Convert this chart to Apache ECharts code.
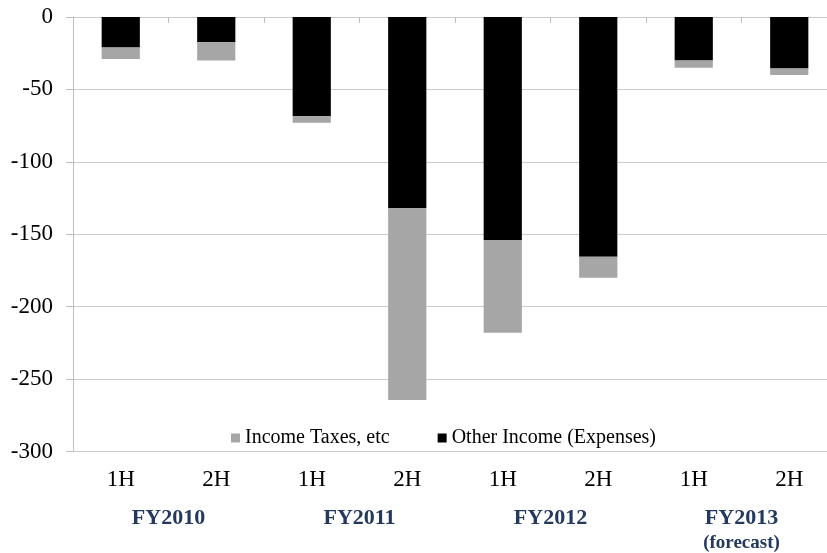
<!DOCTYPE html>
<html>
<head>
<meta charset="utf-8">
<script src="https://cdn.jsdelivr.net/npm/echarts@6/dist/echarts.min.js"></script>
<style>
  html, body { margin: 0; padding: 0; background: #fff; overflow: hidden; }
  /* plot area runs slightly past the right edge of the window */
  #chart { width: 840px; height: 553px; }
</style>
</head>
<body>
<div id="chart"></div>
<script>
// Half-year periods and fiscal-year groups
const halves = ['1H', '2H', '1H', '2H', '1H', '2H', '1H', '2H'];
const fiscalYears = ['FY2010', 'FY2011', 'FY2012', 'FY2013'];

// Values per half-year (stacked downward from zero)
const otherIncome = [-21, -17.5, -68.5, -132, -154, -165.5, -30, -35.5];
const incomeTaxes = [-8, -12.5, -4.5, -132.5, -64, -14.5, -5, -4.5];

// Value axis range
const yMin = -300, yMax = 0, yStep = 50;

const serif = '"Liberation Serif", "Times New Roman", serif';
const navy = '#23395d';

const chart = echarts.init(document.getElementById('chart'), null, { renderer: 'canvas' });

chart.setOption({
  animation: false,
  backgroundColor: '#ffffff',
  grid: { left: 73, top: 17, width: 764, height: 438, containLabel: false },
  legend: {
    data: ['Income Taxes, etc', 'Other Income (Expenses)'],
    left: 226,
    top: 423,
    icon: 'rect',
    itemWidth: 9,
    itemHeight: 9,
    itemGap: 48,
    textStyle: { fontFamily: serif, fontSize: 20, color: '#000' }
  },
  xAxis: [
    {
      type: 'category',
      data: halves,
      position: 'bottom',
      axisLine: { show: false },
      axisTick: { show: false },
      axisLabel: { fontFamily: serif, fontSize: 23, color: '#000', margin: 17 }
    },
    {
      type: 'category',
      data: fiscalYears,
      position: 'bottom',
      offset: 38,
      axisLine: { show: false },
      axisTick: { show: false },
      axisLabel: {
        margin: 16,
        formatter: function (v) {
          return v === 'FY2013' ? '{fy|' + v + '}\n{note|(forecast)}' : '{fy|' + v + '}';
        },
        rich: {
          fy: { fontFamily: serif, fontSize: 22, fontWeight: 'bold', color: navy, lineHeight: 26 },
          note: { fontFamily: serif, fontSize: 19, fontWeight: 'bold', color: navy, lineHeight: 24 }
        }
      }
    },
    {
      type: 'category',
      data: halves,
      position: 'top',
      axisLine: { show: false },
      axisTick: { show: true, inside: true, length: 6, lineStyle: { color: '#bfbfbf' } },
      axisLabel: { show: false }
    }
  ],
  yAxis: {
    type: 'value',
    min: yMin,
    max: yMax,
    interval: yStep,
    axisLine: { show: true, lineStyle: { color: '#bfbfbf' } },
    axisTick: { show: true, length: 7, lineStyle: { color: '#bfbfbf' } },
    splitLine: { show: true, lineStyle: { color: '#cccccc', width: 1 } },
    axisLabel: { fontFamily: serif, fontSize: 23, color: '#000', margin: 20 }
  },
  series: [
    {
      name: 'Other Income (Expenses)',
      type: 'bar',
      stack: 'total',
      barWidth: '40%',
      xAxisIndex: 0,
      itemStyle: { color: '#000000' },
      data: otherIncome
    },
    {
      name: 'Income Taxes, etc',
      type: 'bar',
      stack: 'total',
      barWidth: '40%',
      xAxisIndex: 0,
      itemStyle: { color: '#a6a6a6' },
      data: incomeTaxes
    }
  ]
});
</script>
</body>
</html>
